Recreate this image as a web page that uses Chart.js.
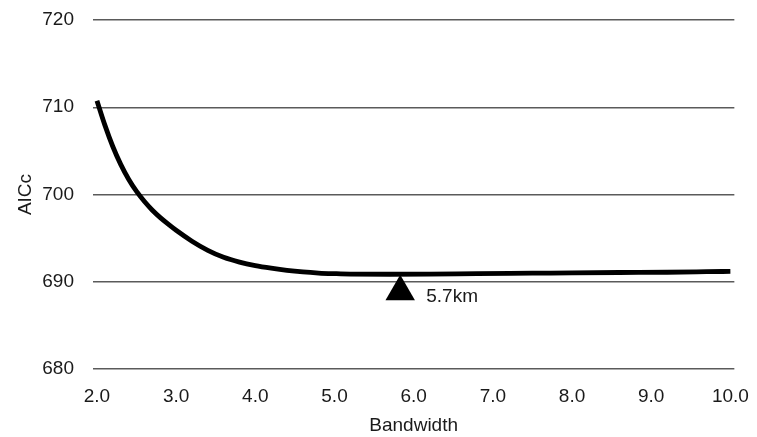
<!DOCTYPE html>
<html>
<head>
<meta charset="utf-8">
<script src="https://cdn.jsdelivr.net/npm/chart.js@4"></script>
<style>
  html, body { margin: 0; padding: 0; background: #fff; }
  #wrap { width: 757px; height: 437px; }
</style>
</head>
<body>
<div id="wrap"><canvas id="chart"></canvas></div>
<script>
// AICc against bandwidth
const bandwidth = [2.0, 2.1, 2.2, 2.3, 2.4, 2.5, 2.6, 2.7, 2.8, 2.9, 3.0, 3.2, 3.4, 3.6, 3.8, 4.0, 4.2, 4.4, 4.6, 4.8, 5.0, 5.2, 5.7, 6.2, 6.8, 7.5, 8.0, 8.6, 9.2, 9.7, 10.0];
const aicc = [710.75, 707.95, 705.5, 703.45, 701.75, 700.35, 699.2, 698.2, 697.35, 696.6, 695.9, 694.65, 693.6, 692.8, 692.25, 691.85, 691.55, 691.3, 691.12, 691.0, 690.93, 690.88, 690.86, 690.87, 690.93, 690.98, 691.02, 691.06, 691.09, 691.15, 691.19];
const xTicks = [2, 3, 4, 5, 6, 7, 8, 9, 10];

// optimum marker
const optimumX = [5.83];
const optimumY = [688.84];
const optimumLabel = '5.7km';

const FONT = 'Liberation Sans, Arial, sans-serif';
const TEXT = '#1a1a1a';

const markerLabel = {
    id: 'markerLabel',
    afterDatasetsDraw(chart) {
        const ctx = chart.ctx;
        const px = chart.scales.x.getPixelForValue(optimumX[0]);
        const py = chart.scales.y.getPixelForValue(optimumY[0]);
        ctx.save();
        ctx.fillStyle = TEXT;
        ctx.font = '19px ' + FONT;
        ctx.textBaseline = 'middle';
        ctx.fillText(optimumLabel, px + 26, py + 5);
        ctx.restore();
    }
};

new Chart(document.getElementById('chart'), {
    type: 'scatter',
    data: {
        datasets: [{
            data: optimumX.map((x, i) => ({ x: x, y: optimumY[i] })),
            pointStyle: 'triangle',
            pointRadius: 17,
            backgroundColor: '#000',
            borderWidth: 0,
            showLine: false,
            order: 0
        }, {
            data: bandwidth.map((x, i) => ({ x: x, y: aicc[i] })),
            showLine: true,
            borderColor: '#000',
            borderWidth: 4.8,
            pointRadius: 0,
            cubicInterpolationMode: 'monotone',
            order: 1
        }]
    },
    options: {
        responsive: true,
        maintainAspectRatio: false,
        animation: false,
        layout: { padding: { top: 20, right: 20, left: 0, bottom: 0 } },
        plugins: { legend: { display: false }, tooltip: { enabled: false } },
        scales: {
            x: {
                type: 'linear',
                min: 1.95,
                max: 10.05,
                afterBuildTicks: (scale) => { scale.ticks = xTicks.map(v => ({ value: v })); },
                grid: { display: false },
                border: { display: false },
                ticks: {
                    color: TEXT,
                    font: { family: FONT, size: 19 },
                    padding: 8,
                    maxRotation: 0,
                    callback: (v) => Number(v).toFixed(1)
                },
                title: {
                    display: true,
                    text: 'Bandwidth',
                    color: TEXT,
                    font: { family: FONT, size: 19 },
                    padding: { top: 2, bottom: 0 }
                },
                afterFit: (scale) => { scale.height = 68; }
            },
            y: {
                min: 680,
                max: 720,
                grid: { color: '#5a5a5a', lineWidth: 1.5, drawTicks: false },
                border: { display: false },
                ticks: {
                    stepSize: 10,
                    color: TEXT,
                    font: { family: FONT, size: 19 },
                    padding: 19
                },
                title: {
                    display: true,
                    text: 'AICc',
                    color: TEXT,
                    font: { family: FONT, size: 19 },
                    padding: { top: 14, bottom: 0 }
                },
                afterFit: (scale) => { scale.width = 93; scale.paddingTop = 0; }
            }
        }
    },
    plugins: [markerLabel]
});
</script>
</body>
</html>
